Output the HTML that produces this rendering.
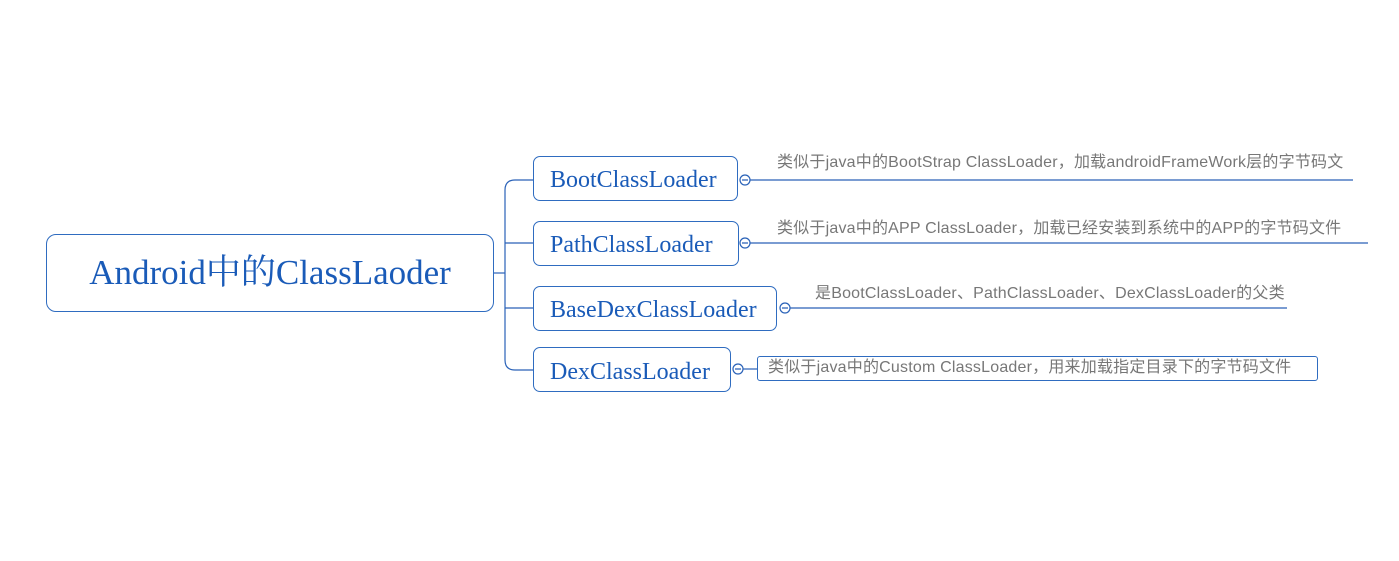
<!DOCTYPE html>
<html><head><meta charset="utf-8"><style>
body{margin:0;width:1399px;height:561px;background:#fff;position:relative;overflow:hidden}
.b{position:absolute;border:1px solid #2f6cc0;border-radius:7px;box-sizing:border-box;color:#1a5bb8;font-family:"Liberation Serif","Noto Serif CJK SC",serif;white-space:nowrap}
.t{position:absolute;color:#777;font-family:"Liberation Sans","Noto Sans CJK SC",sans-serif;font-size:16px;white-space:nowrap;letter-spacing:0.2px;line-height:18px}
</style></head><body>
<svg width="1399" height="561" style="position:absolute;left:0;top:0">
<g fill="none" stroke="#2a62b8" stroke-width="1.2">
<path d="M493 273 H505"/>
<path d="M533 180 H515 Q505 180 505 190 V360 Q505 370 515 370 H533"/>
<path d="M505 243 Q505 243 515 243 H533"/>
<path d="M505 308 H533"/>
<path d="M750 180 H1353"/>
<path d="M750 243 H1368"/>
<path d="M790 308 H1287"/>
<path d="M743 369 H757"/>
<circle cx="745" cy="180" r="5" fill="#fff"/>
<circle cx="745" cy="243" r="5" fill="#fff"/>
<circle cx="785" cy="308" r="5" fill="#fff"/>
<circle cx="738" cy="369" r="5" fill="#fff"/>
<path d="M742 180h6M742 243h6M782 308h6M735 369h6"/>
</g></svg>
<div class="b" style="left:46px;top:234px;width:448px;height:78px;font-size:35px;line-height:76px;text-align:center;border-radius:10px">Android中的ClassLaoder</div>
<div class="b" style="left:533px;top:156px;width:205px;height:45px;font-size:24px;line-height:47px;padding-left:16px">BootClassLoader</div>
<div class="b" style="left:533px;top:221px;width:206px;height:45px;font-size:24px;line-height:47px;padding-left:16px">PathClassLoader</div>
<div class="b" style="left:533px;top:286px;width:244px;height:45px;font-size:24px;line-height:47px;padding-left:16px">BaseDexClassLoader</div>
<div class="b" style="left:533px;top:347px;width:198px;height:45px;font-size:24px;line-height:49px;padding-left:16px">DexClassLoader</div>
<div class="t" style="left:777px;top:154px">类似于java中的BootStrap ClassLoader，加载androidFrameWork层的字节码文</div>
<div class="t" style="left:777px;top:220px">类似于java中的APP ClassLoader，加载已经安装到系统中的APP的字节码文件</div>
<div class="t" style="left:815px;top:285px">是BootClassLoader、PathClassLoader、DexClassLoader的父类</div>
<div style="position:absolute;left:757px;top:356px;width:561px;height:25px;border:1px solid #2f6cc0;border-radius:3px;box-sizing:border-box"></div>
<div class="t" style="left:768px;top:359px">类似于java中的Custom ClassLoader，用来加载指定目录下的字节码文件</div>
</body></html>
